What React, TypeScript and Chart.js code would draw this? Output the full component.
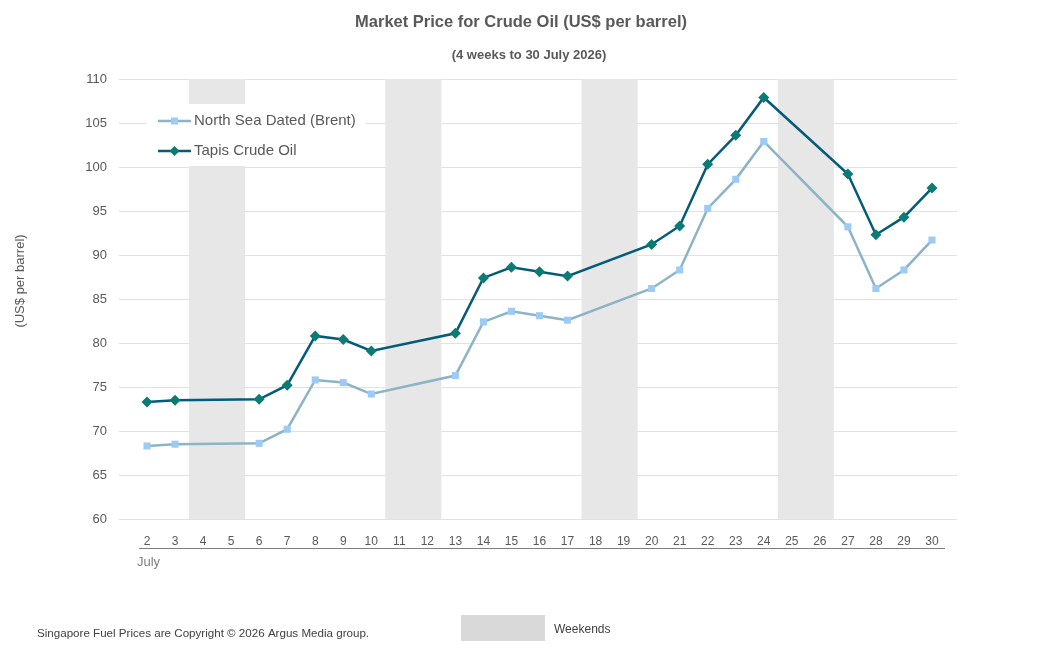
import React, { useEffect, useRef } from "react";
import { Chart, registerables } from "chart.js";

Chart.register(...registerables);

const DAYS = ["2","3","4","5","6","7","8","9","10","11","12","13","14","15","16","17","18","19","20","21","22","23","24","25","26","27","28","29","30"];
const BRENT = [68.3, 68.5, null, null, 68.6, 70.2, 75.8, 75.5, 74.2, null, null, 76.3, 82.4, 83.6, 83.1, 82.6, null, null, 86.2, 88.3, 95.3, 98.6, 102.9, null, null, 93.2, 86.2, 88.3, 91.7];
const TAPIS = [73.3, 73.5, null, null, 73.6, 75.2, 80.8, 80.4, 79.1, null, null, 81.1, 87.4, 88.6, 88.1, 87.6, null, null, 91.2, 93.3, 100.3, 103.6, 107.9, null, null, 99.2, 92.3, 94.3, 97.6];
const WEEKENDS = [["4", "5"], ["11", "12"], ["18", "19"], ["25", "26"]];
const Y_MIN = 60;
const Y_MAX = 110;
const Y_STEP = 5;
const MONTH_LABEL = "July";
const SERIES_NAMES = ["North Sea Dated (Brent)", "Tapis Crude Oil"];
const TITLE = "Market Price for Crude Oil (US$ per barrel)";
const SUBTITLE = "(4 weeks to 30 July 2026)";
const Y_TITLE = "(US$ per barrel)";
const FOOTER = "Singapore Fuel Prices are Copyright \u00a9 2026 Argus Media group.";
const WEEKEND_LABEL = "Weekends";

const FONT = "'Liberation Sans', Arial, sans-serif";
const TEXT = "#595959";
const BRENT_LINE = "#8db4c4";
const BRENT_PT = "#9ccbf5";
const TAPIS_LINE = "#065b7a";
const TAPIS_PT = "#0a7c74";
const BAND = "#e7e7e7";
const GRID = "#e2e2e2";

const decorPlugin = {
  id: "decor",
  beforeDraw(chart: any) {
    const { ctx, chartArea } = chart;
    const x = chart.scales.x;
    const y = chart.scales.y;
    ctx.save();
    ctx.fillStyle = "#ffffff";
    ctx.fillRect(0, 0, chart.width, chart.height);
    // gridlines
    ctx.strokeStyle = GRID;
    ctx.lineWidth = 1;
    for (let v = Y_MIN; v <= Y_MAX; v += Y_STEP) {
      const py = Math.round(y.getPixelForValue(v)) + 0.5;
      ctx.beginPath();
      ctx.moveTo(chartArea.left - 14, py);
      ctx.lineTo(chartArea.right + 11, py);
      ctx.stroke();
    }
    // weekend bands
    const half = (x.getPixelForValue(1) - x.getPixelForValue(0)) / 2;
    ctx.fillStyle = BAND;
    WEEKENDS.forEach(([a, b]) => {
      const x0 = x.getPixelForValue(DAYS.indexOf(a)) - half;
      const x1 = x.getPixelForValue(DAYS.indexOf(b)) + half;
      const top = y.getPixelForValue(Y_MAX);
      const bot = y.getPixelForValue(Y_MIN);
      ctx.fillRect(x0, top, x1 - x0, bot - top);
    });
    // title
    ctx.fillStyle = TEXT;
    ctx.textAlign = "center";
    ctx.textBaseline = "middle";
    ctx.font = `bold 16.5px ${FONT}`;
    ctx.fillText(TITLE, 521, 22);
    ctx.font = `bold 13px ${FONT}`;
    ctx.fillText(SUBTITLE, 529, 55);
    // y title
    ctx.save();
    ctx.translate(20, 281);
    ctx.rotate(-Math.PI / 2);
    ctx.font = `13px ${FONT}`;
    ctx.fillText(Y_TITLE, 0, 0);
    ctx.restore();
    // axis underline + month
    ctx.strokeStyle = "#808080";
    ctx.beginPath();
    ctx.moveTo(139, 548.5);
    ctx.lineTo(945, 548.5);
    ctx.stroke();
    ctx.fillStyle = "#7f7f7f";
    ctx.textAlign = "left";
    ctx.font = `13px ${FONT}`;
    ctx.fillText(MONTH_LABEL, 137, 562);
    // footer
    ctx.fillStyle = "#404040";
    ctx.font = `11.6px ${FONT}`;
    ctx.fillText(FOOTER, 37, 634);
    ctx.fillStyle = "#d9d9d9";
    ctx.fillRect(461, 615, 84, 26);
    ctx.fillStyle = "#404040";
    ctx.font = `12px ${FONT}`;
    ctx.fillText(WEEKEND_LABEL, 554, 630);
    ctx.restore();
  },
  beforeDatasetsDraw(chart: any) {
    const { ctx } = chart;
    ctx.save();
    ctx.fillStyle = "#ffffff";
    ctx.fillRect(146, 104, 220, 62);
    const items = [
      { name: SERIES_NAMES[0], line: BRENT_LINE, pt: BRENT_PT, y: 121, style: "rect" },
      { name: SERIES_NAMES[1], line: TAPIS_LINE, pt: TAPIS_PT, y: 151, style: "rectRot" },
    ];
    items.forEach((it) => {
      ctx.strokeStyle = it.line;
      ctx.lineWidth = 2.5;
      ctx.beginPath();
      ctx.moveTo(158, it.y);
      ctx.lineTo(191, it.y);
      ctx.stroke();
      ctx.fillStyle = it.pt;
      ctx.beginPath();
      if (it.style === "rect") {
        ctx.rect(174.5 - 3.5, it.y - 3.5, 7, 7);
      } else {
        ctx.moveTo(174.5 - 5, it.y);
        ctx.lineTo(174.5, it.y - 5);
        ctx.lineTo(174.5 + 5, it.y);
        ctx.lineTo(174.5, it.y + 5);
        ctx.closePath();
      }
      ctx.fill();
      ctx.fillStyle = TEXT;
      ctx.font = `15px ${FONT}`;
      ctx.textAlign = "left";
      ctx.textBaseline = "middle";
      ctx.fillText(it.name, 194, it.y);
    });
    ctx.restore();
  },
};

export default function App() {
  const ref = useRef<HTMLCanvasElement | null>(null);
  useEffect(() => {
    if (!ref.current) return;
    const chart = new Chart(ref.current, {
      type: "line",
      data: {
        labels: DAYS,
        datasets: [
          {
            label: SERIES_NAMES[0],
            data: BRENT,
            borderColor: BRENT_LINE,
            backgroundColor: BRENT_PT,
            pointBackgroundColor: BRENT_PT,
            pointBorderWidth: 0,
            pointStyle: "rect",
            pointRadius: 5,
            borderWidth: 2.5,
            spanGaps: true,
            tension: 0,
          },
          {
            label: SERIES_NAMES[1],
            data: TAPIS,
            borderColor: TAPIS_LINE,
            backgroundColor: TAPIS_PT,
            pointBackgroundColor: TAPIS_PT,
            pointBorderWidth: 0,
            pointStyle: "rectRot",
            pointRadius: 5.5,
            borderWidth: 2.5,
            spanGaps: true,
            tension: 0,
          },
        ],
      },
      options: {
        animation: false,
        responsive: false,
        devicePixelRatio: 1,
        layout: { padding: { top: 79, right: 98, bottom: 0, left: 0 } },
        plugins: {
          legend: { display: false },
          tooltip: { enabled: false },
          title: { display: false },
        },
        scales: {
          x: {
            type: "category",
            offset: true,
            grid: { display: false },
            border: { display: false },
            ticks: {
              color: TEXT,
              font: { size: 12, family: FONT },
              padding: 7,
              maxRotation: 0,
              autoSkip: false,
            },
            afterFit: (s: any) => {
              s.height = 143;
            },
          },
          y: {
            min: Y_MIN,
            max: Y_MAX,
            grid: { display: false },
            border: { display: false },
            ticks: {
              stepSize: Y_STEP,
              color: TEXT,
              font: { size: 13, family: FONT },
              padding: 18,
            },
            afterFit: (s: any) => {
              s.width = 133;
            },
          },
        },
      },
      plugins: [decorPlugin],
    } as any);
    return () => chart.destroy();
  }, []);
  return (
    <div style={{ position: "absolute", left: 0, top: 0, width: 1044, height: 662, background: "#fff" }}>
      <canvas ref={ref} width={1044} height={662} style={{ display: "block" }} />
    </div>
  );
}
